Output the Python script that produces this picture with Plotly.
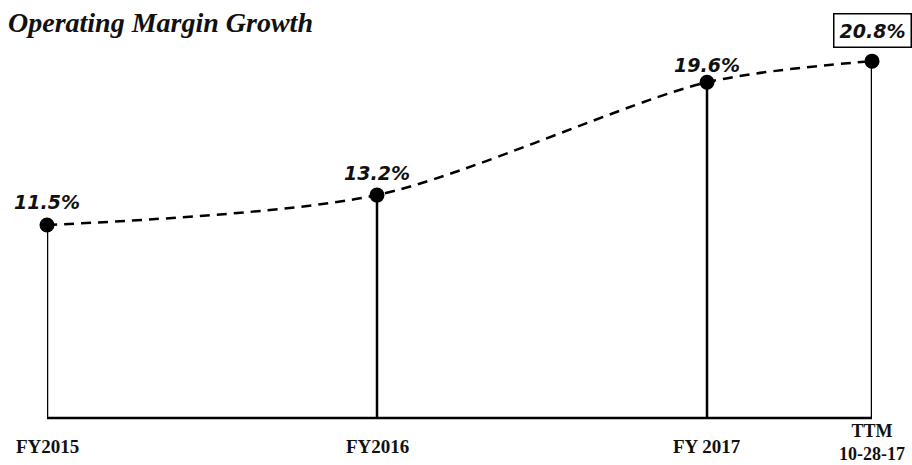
import plotly.graph_objects as go

categories = ["FY2015", "FY2016", "FY 2017", "TTM<br>10-28-17"]
x_pos = [0, 1, 2, 2.5]
margins = [11.5, 13.2, 19.6, 20.8]
labels = ["11.5%", "13.2%", "19.6%", "20.8%"]

Y_MIN, Y_MAX = 0.55, 22.0

fig = go.Figure()

# stems
sx, sy = [], []
for xv, yv in zip(x_pos, margins):
    sx += [xv, xv, None]
    sy += [Y_MIN, yv, None]
fig.add_trace(go.Scatter(x=sx, y=sy, mode="lines", line=dict(color="black", width=2.5),
                         hoverinfo="skip", cliponaxis=False, showlegend=False))

# dashed trend
fig.add_trace(go.Scatter(x=x_pos, y=margins, mode="lines",
                         line=dict(color="black", width=2.5, dash="10px,7px", shape="spline", smoothing=0.8),
                         cliponaxis=False, showlegend=False))

# points
fig.add_trace(go.Scatter(x=x_pos, y=margins, mode="markers",
                         marker=dict(color="black", size=15),
                         cliponaxis=False, showlegend=False))

offsets = [23, 22, 17, 31]
for i, (xv, yv, t) in enumerate(zip(x_pos, margins, labels)):
    boxed = i == len(labels) - 1
    fig.add_annotation(x=xv, y=yv, text=f"<b><i>{t}</i></b>", showarrow=False, xref="x", yref="y",
                       yanchor="middle", yshift=offsets[i],
                       font=dict(family="DejaVu Sans", size=19, color="#111"),
                       bordercolor="black" if boxed else None,
                       borderwidth=1.5 if boxed else 0, borderpad=5 if boxed else 0,
                       bgcolor="white" if boxed else None)

for i, (xv, c) in enumerate(zip(x_pos, categories)):
    fig.add_annotation(x=xv, y=0, xref="x", yref="paper", text=f"<b>{c}</b>", showarrow=False,
                       yanchor="middle", yshift=-28 if i < 3 else -24,
                       font=dict(family="Liberation Serif", size=19 if i < 3 else 18, color="#111"))

fig.add_annotation(x=0, y=1, xref="paper", yref="paper", xshift=268, yshift=18,
                   xanchor="right", yanchor="middle",
                   text="<b><i>Operating Margin Growth</i></b>", showarrow=False,
                   font=dict(family="Liberation Serif", size=28, color="#111"))

fig.update_layout(
    width=912, height=465,
    margin=dict(l=47, r=40, t=40, b=47),
    paper_bgcolor="white", plot_bgcolor="white",
    xaxis=dict(range=[0, 2.5], showgrid=False, zeroline=False, showticklabels=False,
               showline=False, ticks=""),
    yaxis=dict(range=[Y_MIN, Y_MAX], showgrid=False, zeroline=False, showticklabels=False,
               showline=False, ticks=""),
    shapes=[dict(type="line", xref="paper", yref="paper", x0=0, x1=1, y0=0, y1=0,
                 line=dict(color="black", width=2.5))],
)

fig.write_html("out.html")
